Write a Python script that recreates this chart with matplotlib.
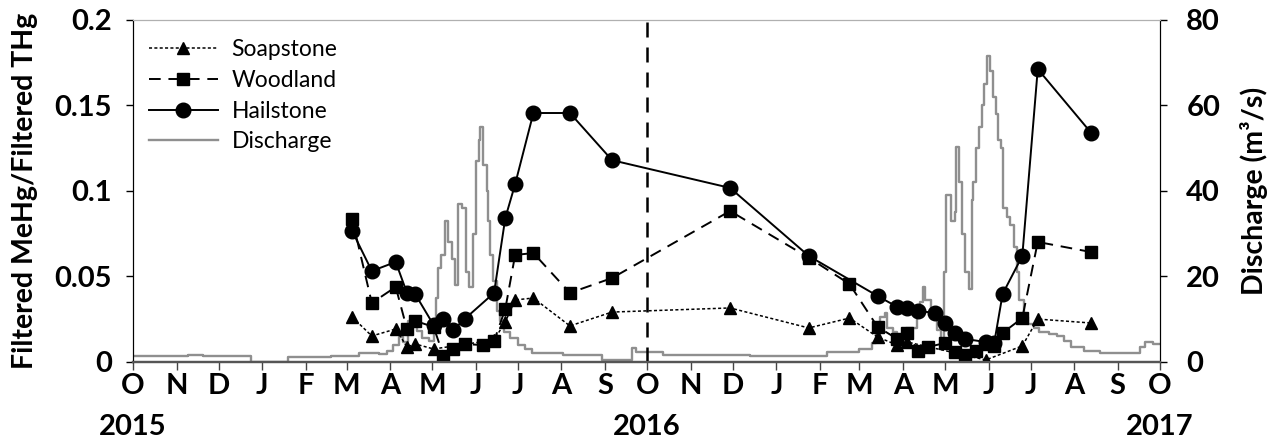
import matplotlib
matplotlib.use("Agg")
import matplotlib.pyplot as plt
import matplotlib.dates as mdates
import matplotlib.transforms as mtransforms
import numpy as np
import pandas as pd

plt.rcParams['font.family'] = ['Lato', 'DejaVu Sans']

# Filtered MeHg / filtered THg ratios at the three sites
hail_dates = ["2016-03-05", "2016-03-19", "2016-04-05", "2016-04-13", "2016-04-19",
              "2016-05-02", "2016-05-09", "2016-05-16", "2016-05-24", "2016-06-14",
              "2016-06-22", "2016-06-29", "2016-07-12", "2016-08-07", "2016-09-06",
              "2016-11-29", "2017-01-24", "2017-03-14", "2017-03-28", "2017-04-04",
              "2017-04-12", "2017-04-24", "2017-05-01", "2017-05-08", "2017-05-15",
              "2017-05-30", "2017-06-05", "2017-06-11", "2017-06-25", "2017-07-06",
              "2017-08-13"]
hail_vals = [0.0766, 0.0532, 0.0585, 0.0404, 0.0395,
             0.0216, 0.0251, 0.0187, 0.0251, 0.0404,
             0.0842, 0.104, 0.1456, 0.1456, 0.118,
             0.1018, 0.062, 0.0386, 0.0322, 0.0316,
             0.0298, 0.0287, 0.0228, 0.0170, 0.0135,
             0.0117, 0.0111, 0.0398, 0.062, 0.1713,
             0.134]

wood_dates = ["2016-03-05", "2016-03-19", "2016-04-05", "2016-04-13", "2016-04-19",
              "2016-05-02", "2016-05-09", "2016-05-16", "2016-05-24", "2016-06-06",
              "2016-06-14", "2016-06-22", "2016-06-29", "2016-07-12", "2016-08-07",
              "2016-09-06", "2016-11-29", "2017-01-24", "2017-02-22", "2017-03-14",
              "2017-03-28", "2017-04-04", "2017-04-12", "2017-04-19", "2017-05-01",
              "2017-05-08", "2017-05-15", "2017-05-23", "2017-05-30", "2017-06-05",
              "2017-06-11", "2017-06-25", "2017-07-06", "2017-08-13"]
wood_vals = [0.0836, 0.0345, 0.0439, 0.0193, 0.024,
             0.0205, 0.0035, 0.0076, 0.0105, 0.0099,
             0.0123, 0.031, 0.0626, 0.0637, 0.0404,
             0.0491, 0.0883, 0.061, 0.0456, 0.0205,
             0.0135, 0.017, 0.0064, 0.0088, 0.0111,
             0.0058, 0.0041, 0.0064, 0.0105, 0.0094,
             0.017, 0.0257, 0.0702, 0.0643]

soap_dates = ["2016-03-05", "2016-03-19", "2016-04-05", "2016-04-13", "2016-04-19",
              "2016-05-02", "2016-06-14", "2016-06-22", "2016-06-29", "2016-07-12",
              "2016-08-07", "2016-09-06", "2016-11-29", "2017-01-24", "2017-02-22",
              "2017-03-14", "2017-03-28", "2017-04-04", "2017-05-30", "2017-06-25",
              "2017-07-06", "2017-08-13"]
soap_vals = [0.0263, 0.0152, 0.0193, 0.0088, 0.0105,
             0.0076, 0.0129, 0.0234, 0.0363, 0.0374,
             0.0211, 0.0292, 0.0316, 0.0199, 0.0257,
             0.0146, 0.0099, 0.0117, 0.0012, 0.0094,
             0.0251, 0.0228]

# Daily discharge (m3/s), stored as the dates where the stepped record changes
q_dates = ["2015-10-01", "2015-11-09", "2015-11-20", "2015-12-24", "2016-01-19",
           "2016-02-19", "2016-03-10", "2016-03-24", "2016-03-30", "2016-04-03",
           "2016-04-07", "2016-04-10", "2016-04-14", "2016-04-18", "2016-04-20",
           "2016-04-24", "2016-04-29", "2016-05-02", "2016-05-04", "2016-05-05",
           "2016-05-07", "2016-05-10", "2016-05-12", "2016-05-15", "2016-05-17",
           "2016-05-19", "2016-05-22", "2016-05-25", "2016-05-27", "2016-05-30",
           "2016-06-01", "2016-06-03", "2016-06-04", "2016-06-06", "2016-06-09",
           "2016-06-10", "2016-06-11", "2016-06-13", "2016-06-16", "2016-06-18",
           "2016-06-21", "2016-06-25", "2016-07-01", "2016-07-06", "2016-07-11",
           "2016-08-02", "2016-08-30", "2016-09-20", "2016-09-23", "2016-10-12",
           "2016-12-13", "2017-02-06", "2017-03-01", "2017-03-10", "2017-03-13",
           "2017-03-16", "2017-03-19", "2017-03-21", "2017-03-25", "2017-03-28",
           "2017-04-03", "2017-04-11", "2017-04-13", "2017-04-15", "2017-04-17",
           "2017-04-21", "2017-04-25", "2017-04-28", "2017-04-30", "2017-05-02",
           "2017-05-05", "2017-05-08", "2017-05-09", "2017-05-11", "2017-05-13",
           "2017-05-15", "2017-05-18", "2017-05-20", "2017-05-21", "2017-05-23",
           "2017-05-25", "2017-05-27", "2017-05-29", "2017-05-31", "2017-06-02",
           "2017-06-04", "2017-06-06", "2017-06-08", "2017-06-10", "2017-06-11",
           "2017-06-14", "2017-06-16", "2017-06-19", "2017-06-21", "2017-06-23",
           "2017-06-26", "2017-06-29", "2017-07-03", "2017-07-07", "2017-07-14",
           "2017-07-20", "2017-07-25", "2017-07-30", "2017-08-08", "2017-08-19",
           "2017-09-12", "2017-09-17", "2017-09-20", "2017-09-26", "2017-10-01"]
q_vals = [1.3, 1.6, 1.3, 0.0, 1.2,
          1.5, 2.0, 1.8, 2.5, 4.0,
          5.8, 4.6, 9.5, 8.5, 7.2,
          5.5, 4.8, 8.5, 15, 22,
          25, 33, 28, 24, 18,
          37, 36, 21, 17.5, 30,
          47, 52, 55, 46, 40,
          33, 25, 19, 12, 9.5,
          7, 5.5, 4, 3, 2.0,
          1.6, 0.5, 3.2, 2.4, 1.6,
          1.4, 2.3, 3, 4.5, 8,
          10.5, 11.5, 8, 7, 5,
          8, 10.5, 14, 17.6, 14.5,
          12, 7.5, 5, 21, 39,
          33, 35, 50.3, 42, 30,
          21, 17, 38, 42, 50,
          55, 60, 65, 71.5, 68,
          62, 58, 52, 50, 36,
          34, 32, 27, 21, 14.5,
          10.5, 9, 8, 7, 6.5,
          6, 5, 3.5, 2.5, 2,
          2, 3.5, 4.7, 4.2, 4.2]

hail_d = pd.to_datetime(hail_dates)
wood_d = pd.to_datetime(wood_dates)
soap_d = pd.to_datetime(soap_dates)
q_d = pd.to_datetime(q_dates)

fig = plt.figure(figsize=(12.74, 4.44), dpi=100)
ax = fig.add_axes([0.1044, 0.1847, 0.8061, 0.7703])
ax2 = ax.twinx()

# discharge sits behind the ratio series
ax.set_zorder(ax2.get_zorder() + 1)
ax.patch.set_visible(False)

ax2.step(q_d, q_vals, where='post', color='#8f8f8f', lw=1.7)

ax.plot(soap_d, soap_vals, color='black', lw=1.1, ls=(0, (2, 1.5)),
        marker='^', ms=8, label='Soapstone')
ax.plot(wood_d, wood_vals, color='black', lw=1.4, ls=(0, (6, 4)),
        marker='s', ms=9, label='Woodland')
ax.plot(hail_d, hail_vals, color='black', lw=1.4, ls='-',
        marker='o', ms=10.5, label='Hailstone')
ax.plot([], [], color='#8f8f8f', lw=1.7, label='Discharge')

ax.axvline(pd.Timestamp("2016-10-01"), color='black', lw=1.8, ls=(0, (6, 4)), zorder=1)

xmin, xmax = pd.Timestamp("2015-10-01"), pd.Timestamp("2017-10-01")
ax.set_xlim(xmin, xmax)
ax.set_ylim(0, 0.2)
ax2.set_ylim(0, 80)

ax.set_yticks([0, 0.05, 0.1, 0.15, 0.2])
ax.set_yticklabels(['0', '0.05', '0.1', '0.15', '0.2'])
ax2.set_yticks([0, 20, 40, 60, 80])

ax.xaxis.set_major_locator(mdates.MonthLocator())
ax.xaxis.set_major_formatter(plt.FuncFormatter(
    lambda v, p: mdates.num2date(v).strftime('%b')[0]))

TICK_FS = 21
for a in (ax, ax2):
    for lab in a.get_yticklabels():
        lab.set_fontweight('bold')
    a.tick_params(axis='y', labelsize=TICK_FS, length=5, width=1, direction='out')
for lab in ax.get_xticklabels():
    lab.set_fontweight('bold')
ax.tick_params(axis='x', labelsize=TICK_FS, length=6, width=1, direction='out', pad=2,
               color='#444444')
ax.tick_params(axis='y', pad=10)
ax2.tick_params(axis='y', pad=14)

ax.set_ylabel('Filtered MeHg/Filtered THg', fontsize=20.5, fontweight='bold', labelpad=12)
ax2.set_ylabel('Discharge (m³/s)', fontsize=20.5, fontweight='bold', labelpad=14)

for a in (ax, ax2):
    a.spines['top'].set_color('#b0b0b0')
    a.spines['left'].set_color('black')
    a.spines['right'].set_color('black')
    a.spines['bottom'].set_color('#555555')
    a.spines['bottom'].set_linewidth(1.6)

trans = mtransforms.blended_transform_factory(ax.transData, ax.transAxes)
for yr in ["2015", "2016", "2017"]:
    ax.text(pd.Timestamp(f"{yr}-10-01"), -0.19, yr,
            transform=trans, ha='center', va='center', fontsize=TICK_FS,
            fontweight='bold', clip_on=False)

leg = ax.legend(loc='upper left', bbox_to_anchor=(0.0, 0.99), frameon=False,
                fontsize=16.5, handlelength=3.0, handletextpad=0.6,
                labelspacing=0.42, borderaxespad=0.3)

fig.savefig('out.png', dpi=100)
